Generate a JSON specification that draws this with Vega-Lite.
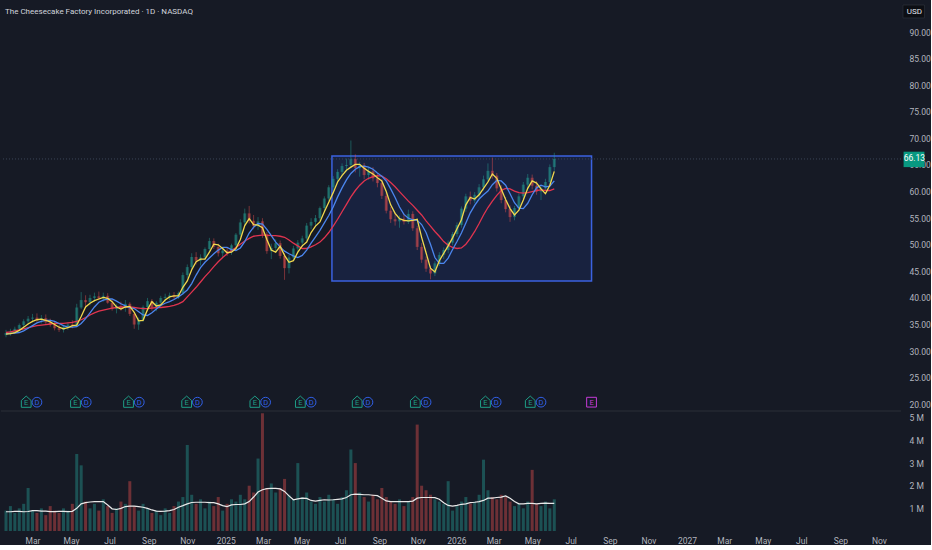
{
  "$schema": "https://vega.github.io/schema/vega-lite/v6.json",
  "background": "#161a25",
  "padding": {"left": 0, "top": 0, "right": 0, "bottom": 0},
  "title": {
    "text": "The Cheesecake Factory Incorporated · 1D · NASDAQ",
    "anchor": "start",
    "frame": "group",
    "dx": 4,
    "offset": -16,
    "font": "Roboto, sans-serif",
    "fontSize": 8,
    "fontWeight": "normal",
    "color": "#d1d4dc"
  },
  "datasets": {
    "px": [
      {"d": "2024-01-19", "o": 33.0, "h": 34.0, "l": 32.6, "c": 33.4, "v": 0.9, "m1": 33.2, "m2": 33.3, "m3": 33.5, "vm": 0.85},
      {"d": "2024-01-26", "o": 33.4, "h": 34.2, "l": 32.9, "c": 33.7, "v": 1.1, "m1": 33.3, "m2": 33.3, "m3": 33.6, "vm": 0.85},
      {"d": "2024-02-02", "o": 33.7, "h": 34.6, "l": 33.2, "c": 34.2, "v": 0.8, "m1": 33.5, "m2": 33.4, "m3": 33.8, "vm": 0.87},
      {"d": "2024-02-09", "o": 34.2, "h": 35.2, "l": 33.8, "c": 34.9, "v": 1.0, "m1": 33.9, "m2": 33.5, "m3": 34.0, "vm": 0.87},
      {"d": "2024-02-16", "o": 34.9, "h": 36.0, "l": 34.4, "c": 35.6, "v": 1.2, "m1": 34.5, "m2": 33.8, "m3": 34.2, "vm": 0.85},
      {"d": "2024-02-23", "o": 35.6, "h": 36.6, "l": 35.0, "c": 36.1, "v": 1.9, "m1": 35.1, "m2": 34.3, "m3": 34.4, "vm": 0.86},
      {"d": "2024-03-01", "o": 36.1, "h": 37.0, "l": 35.4, "c": 36.3, "v": 0.9, "m1": 35.6, "m2": 34.8, "m3": 34.6, "vm": 0.9},
      {"d": "2024-03-08", "o": 36.3, "h": 37.1, "l": 35.5, "c": 35.9, "v": 0.8, "m1": 35.9, "m2": 35.3, "m3": 34.8, "vm": 0.9},
      {"d": "2024-03-15", "o": 35.9, "h": 36.8, "l": 35.2, "c": 36.2, "v": 1.0, "m1": 36.0, "m2": 35.6, "m3": 34.9, "vm": 0.88},
      {"d": "2024-03-22", "o": 36.2, "h": 36.9, "l": 35.0, "c": 35.4, "v": 0.7, "m1": 35.8, "m2": 35.8, "m3": 35.0, "vm": 0.88},
      {"d": "2024-03-29", "o": 35.4, "h": 36.1, "l": 34.6, "c": 35.0, "v": 1.1, "m1": 35.5, "m2": 35.8, "m3": 35.1, "vm": 0.86},
      {"d": "2024-04-05", "o": 35.0, "h": 35.6, "l": 33.9, "c": 34.3, "v": 0.9, "m1": 35.0, "m2": 35.6, "m3": 35.2, "vm": 0.86},
      {"d": "2024-04-12", "o": 34.3, "h": 35.0, "l": 33.6, "c": 34.0, "v": 0.8, "m1": 34.5, "m2": 35.2, "m3": 35.2, "vm": 0.87},
      {"d": "2024-04-19", "o": 34.0, "h": 34.9, "l": 33.5, "c": 34.6, "v": 1.0, "m1": 34.2, "m2": 34.8, "m3": 35.2, "vm": 0.87},
      {"d": "2024-04-26", "o": 34.6, "h": 35.4, "l": 34.0, "c": 35.0, "v": 0.9, "m1": 34.4, "m2": 34.5, "m3": 35.3, "vm": 0.86},
      {"d": "2024-05-03", "o": 35.0, "h": 35.8, "l": 34.3, "c": 34.8, "v": 1.2, "m1": 34.8, "m2": 34.5, "m3": 35.4, "vm": 0.87},
      {"d": "2024-05-10", "o": 34.8, "h": 38.9, "l": 34.6, "c": 38.2, "v": 3.4, "m1": 34.9, "m2": 34.6, "m3": 35.6, "vm": 1.0},
      {"d": "2024-05-17", "o": 38.2, "h": 41.1, "l": 37.9, "c": 39.6, "v": 2.9, "m1": 36.5, "m2": 35.2, "m3": 35.9, "vm": 1.2},
      {"d": "2024-05-24", "o": 39.6, "h": 40.5, "l": 38.4, "c": 39.2, "v": 1.3, "m1": 38.3, "m2": 36.1, "m3": 36.3, "vm": 1.25},
      {"d": "2024-05-31", "o": 39.2, "h": 40.6, "l": 38.6, "c": 40.0, "v": 1.0, "m1": 39.0, "m2": 37.2, "m3": 36.8, "vm": 1.28},
      {"d": "2024-06-07", "o": 40.0, "h": 41.0, "l": 39.3, "c": 40.3, "v": 1.2, "m1": 39.5, "m2": 38.3, "m3": 37.2, "vm": 1.3},
      {"d": "2024-06-14", "o": 40.3, "h": 41.2, "l": 39.6, "c": 39.9, "v": 0.9, "m1": 39.8, "m2": 39.2, "m3": 37.5, "vm": 1.3},
      {"d": "2024-06-21", "o": 39.9, "h": 41.0, "l": 39.3, "c": 40.4, "v": 1.4, "m1": 40.1, "m2": 39.6, "m3": 37.7, "vm": 1.3},
      {"d": "2024-06-28", "o": 40.4, "h": 40.9, "l": 38.9, "c": 39.1, "v": 1.1, "m1": 39.9, "m2": 39.8, "m3": 37.9, "vm": 1.15},
      {"d": "2024-07-05", "o": 39.1, "h": 39.6, "l": 37.6, "c": 37.9, "v": 0.8, "m1": 39.3, "m2": 39.8, "m3": 38.1, "vm": 0.98},
      {"d": "2024-07-12", "o": 37.9, "h": 38.8, "l": 37.1, "c": 38.5, "v": 1.0, "m1": 38.3, "m2": 39.4, "m3": 38.2, "vm": 0.95},
      {"d": "2024-07-19", "o": 38.5, "h": 39.3, "l": 37.6, "c": 38.1, "v": 1.3, "m1": 37.9, "m2": 38.9, "m3": 38.3, "vm": 1.0},
      {"d": "2024-07-26", "o": 38.1, "h": 39.6, "l": 37.4, "c": 38.9, "v": 1.2, "m1": 38.3, "m2": 38.5, "m3": 38.3, "vm": 1.08},
      {"d": "2024-08-02", "o": 38.9, "h": 39.2, "l": 36.6, "c": 37.0, "v": 2.2, "m1": 38.4, "m2": 38.2, "m3": 38.3, "vm": 1.1},
      {"d": "2024-08-09", "o": 37.0, "h": 37.3, "l": 34.2, "c": 35.0, "v": 1.1, "m1": 37.3, "m2": 38.0, "m3": 38.2, "vm": 1.1},
      {"d": "2024-08-16", "o": 35.0, "h": 36.3, "l": 34.0, "c": 35.9, "v": 0.9, "m1": 35.7, "m2": 37.4, "m3": 38.1, "vm": 1.08},
      {"d": "2024-08-23", "o": 35.9, "h": 38.6, "l": 35.5, "c": 38.3, "v": 1.2, "m1": 35.8, "m2": 36.8, "m3": 38.0, "vm": 1.05},
      {"d": "2024-08-30", "o": 38.3, "h": 40.0, "l": 37.8, "c": 39.4, "v": 1.0, "m1": 37.8, "m2": 36.7, "m3": 38.0, "vm": 1.0},
      {"d": "2024-09-06", "o": 39.4, "h": 39.8, "l": 37.6, "c": 38.0, "v": 0.8, "m1": 39.3, "m2": 37.2, "m3": 38.1, "vm": 0.93},
      {"d": "2024-09-13", "o": 38.0, "h": 39.4, "l": 37.5, "c": 39.1, "v": 0.9, "m1": 38.5, "m2": 37.9, "m3": 38.2, "vm": 0.88},
      {"d": "2024-09-20", "o": 39.1, "h": 40.4, "l": 38.6, "c": 40.0, "v": 0.7, "m1": 38.7, "m2": 38.6, "m3": 38.2, "vm": 0.87},
      {"d": "2024-09-27", "o": 40.0, "h": 40.8, "l": 39.3, "c": 40.2, "v": 1.0, "m1": 39.6, "m2": 39.0, "m3": 38.3, "vm": 0.88},
      {"d": "2024-10-04", "o": 40.2, "h": 41.0, "l": 39.6, "c": 40.5, "v": 0.8, "m1": 40.2, "m2": 39.3, "m3": 38.4, "vm": 0.9},
      {"d": "2024-10-11", "o": 40.5, "h": 41.1, "l": 39.6, "c": 40.1, "v": 1.1, "m1": 40.4, "m2": 39.7, "m3": 38.6, "vm": 0.95},
      {"d": "2024-10-18", "o": 40.1, "h": 41.2, "l": 39.8, "c": 40.9, "v": 1.3, "m1": 40.4, "m2": 40.2, "m3": 38.9, "vm": 1.05},
      {"d": "2024-10-25", "o": 40.9, "h": 44.8, "l": 40.6, "c": 44.3, "v": 1.5, "m1": 42.0, "m2": 40.8, "m3": 39.3, "vm": 1.12},
      {"d": "2024-11-01", "o": 44.3, "h": 46.3, "l": 43.7, "c": 45.8, "v": 3.8, "m1": 43.2, "m2": 41.5, "m3": 40.2, "vm": 1.2},
      {"d": "2024-11-08", "o": 45.8, "h": 48.4, "l": 45.4, "c": 47.7, "v": 1.6, "m1": 45.3, "m2": 42.7, "m3": 41.1, "vm": 1.26},
      {"d": "2024-11-15", "o": 47.7, "h": 48.6, "l": 46.3, "c": 47.0, "v": 1.2, "m1": 46.8, "m2": 44.3, "m3": 42.0, "vm": 1.27},
      {"d": "2024-11-22", "o": 47.0, "h": 48.2, "l": 46.1, "c": 47.6, "v": 1.4, "m1": 47.3, "m2": 45.7, "m3": 43.0, "vm": 1.27},
      {"d": "2024-11-29", "o": 47.6, "h": 49.5, "l": 47.1, "c": 49.2, "v": 1.0, "m1": 47.3, "m2": 46.7, "m3": 44.0, "vm": 1.27},
      {"d": "2024-12-06", "o": 49.2, "h": 51.3, "l": 48.6, "c": 50.7, "v": 1.3, "m1": 48.6, "m2": 47.5, "m3": 44.9, "vm": 1.25},
      {"d": "2024-12-13", "o": 50.7, "h": 51.2, "l": 49.2, "c": 49.6, "v": 1.1, "m1": 50.1, "m2": 48.3, "m3": 45.9, "vm": 1.25},
      {"d": "2024-12-20", "o": 49.6, "h": 50.2, "l": 47.8, "c": 48.4, "v": 1.5, "m1": 50.0, "m2": 49.0, "m3": 46.8, "vm": 1.2},
      {"d": "2024-12-27", "o": 48.4, "h": 49.4, "l": 47.7, "c": 48.9, "v": 0.9, "m1": 49.3, "m2": 49.5, "m3": 47.6, "vm": 1.12},
      {"d": "2025-01-03", "o": 48.9, "h": 49.5, "l": 47.9, "c": 48.6, "v": 1.2, "m1": 48.5, "m2": 49.5, "m3": 48.3, "vm": 1.08},
      {"d": "2025-01-10", "o": 48.6, "h": 50.2, "l": 48.1, "c": 49.9, "v": 1.4, "m1": 48.6, "m2": 49.1, "m3": 48.9, "vm": 1.15},
      {"d": "2025-01-17", "o": 49.9, "h": 52.2, "l": 49.5, "c": 51.9, "v": 1.3, "m1": 49.3, "m2": 48.9, "m3": 49.5, "vm": 1.17},
      {"d": "2025-01-24", "o": 51.9, "h": 54.8, "l": 51.5, "c": 54.2, "v": 1.6, "m1": 51.0, "m2": 49.4, "m3": 50.1, "vm": 1.17},
      {"d": "2025-01-31", "o": 54.2, "h": 56.8, "l": 53.6, "c": 55.9, "v": 1.4, "m1": 53.6, "m2": 50.6, "m3": 50.7, "vm": 1.2},
      {"d": "2025-02-07", "o": 55.9, "h": 57.3, "l": 54.0, "c": 54.5, "v": 2.0, "m1": 54.9, "m2": 52.2, "m3": 51.2, "vm": 1.3},
      {"d": "2025-02-14", "o": 54.5, "h": 55.6, "l": 52.9, "c": 53.5, "v": 1.7, "m1": 53.8, "m2": 53.3, "m3": 51.6, "vm": 1.5},
      {"d": "2025-02-21", "o": 53.5, "h": 55.2, "l": 52.8, "c": 54.4, "v": 3.2, "m1": 53.7, "m2": 54.0, "m3": 51.7, "vm": 1.72},
      {"d": "2025-02-28", "o": 54.4, "h": 55.0, "l": 51.3, "c": 51.9, "v": 5.2, "m1": 53.2, "m2": 53.9, "m3": 51.8, "vm": 1.82},
      {"d": "2025-03-07", "o": 51.9, "h": 52.4, "l": 48.3, "c": 48.8, "v": 1.9, "m1": 51.0, "m2": 52.9, "m3": 51.8, "vm": 1.87},
      {"d": "2025-03-14", "o": 48.8, "h": 50.2, "l": 47.3, "c": 49.4, "v": 2.1, "m1": 49.0, "m2": 51.7, "m3": 51.7, "vm": 1.88},
      {"d": "2025-03-21", "o": 49.4, "h": 51.0, "l": 48.7, "c": 50.3, "v": 1.7, "m1": 48.6, "m2": 50.5, "m3": 51.7, "vm": 1.88},
      {"d": "2025-03-28", "o": 50.3, "h": 50.8, "l": 47.4, "c": 47.9, "v": 1.9, "m1": 49.7, "m2": 49.6, "m3": 51.6, "vm": 1.86},
      {"d": "2025-04-04", "o": 47.9, "h": 48.4, "l": 43.4, "c": 45.6, "v": 2.3, "m1": 48.0, "m2": 48.8, "m3": 51.4, "vm": 1.75},
      {"d": "2025-04-11", "o": 45.6, "h": 48.1, "l": 44.6, "c": 47.6, "v": 1.6, "m1": 46.7, "m2": 48.3, "m3": 50.9, "vm": 1.55},
      {"d": "2025-04-18", "o": 47.6, "h": 49.8, "l": 47.1, "c": 49.3, "v": 1.4, "m1": 47.0, "m2": 47.9, "m3": 50.3, "vm": 1.38},
      {"d": "2025-04-25", "o": 49.3, "h": 50.9, "l": 48.7, "c": 50.4, "v": 3.0, "m1": 48.6, "m2": 47.6, "m3": 49.8, "vm": 1.42},
      {"d": "2025-05-02", "o": 50.4, "h": 51.7, "l": 49.6, "c": 51.2, "v": 1.5, "m1": 49.8, "m2": 48.0, "m3": 49.3, "vm": 1.45},
      {"d": "2025-05-09", "o": 51.2, "h": 54.1, "l": 50.8, "c": 53.6, "v": 1.7, "m1": 50.5, "m2": 49.0, "m3": 49.3, "vm": 1.44},
      {"d": "2025-05-16", "o": 53.6, "h": 55.0, "l": 52.9, "c": 54.3, "v": 1.3, "m1": 52.3, "m2": 50.3, "m3": 49.6, "vm": 1.35},
      {"d": "2025-05-23", "o": 54.3, "h": 55.6, "l": 53.4, "c": 55.0, "v": 1.2, "m1": 53.5, "m2": 51.5, "m3": 50.0, "vm": 1.32},
      {"d": "2025-05-30", "o": 55.0, "h": 57.2, "l": 54.5, "c": 56.9, "v": 1.5, "m1": 54.3, "m2": 52.7, "m3": 50.5, "vm": 1.35},
      {"d": "2025-06-06", "o": 56.9, "h": 59.1, "l": 56.3, "c": 58.7, "v": 1.3, "m1": 56.2, "m2": 54.1, "m3": 51.3, "vm": 1.38},
      {"d": "2025-06-13", "o": 58.7, "h": 61.2, "l": 58.2, "c": 60.8, "v": 1.6, "m1": 58.0, "m2": 55.5, "m3": 52.3, "vm": 1.37},
      {"d": "2025-06-20", "o": 60.8, "h": 62.9, "l": 60.1, "c": 62.4, "v": 1.4, "m1": 59.8, "m2": 57.1, "m3": 53.5, "vm": 1.38},
      {"d": "2025-06-27", "o": 62.4, "h": 64.2, "l": 61.7, "c": 63.7, "v": 1.2, "m1": 61.8, "m2": 59.0, "m3": 54.8, "vm": 1.4},
      {"d": "2025-07-04", "o": 63.7, "h": 65.3, "l": 62.9, "c": 64.8, "v": 1.5, "m1": 63.0, "m2": 60.7, "m3": 56.2, "vm": 1.42},
      {"d": "2025-07-11", "o": 64.8, "h": 66.2, "l": 63.8, "c": 65.0, "v": 1.8, "m1": 64.0, "m2": 62.2, "m3": 57.6, "vm": 1.48},
      {"d": "2025-07-18", "o": 65.0, "h": 69.6, "l": 64.5, "c": 66.1, "v": 3.6, "m1": 64.6, "m2": 63.4, "m3": 59.0, "vm": 1.6},
      {"d": "2025-07-25", "o": 66.1, "h": 67.0, "l": 63.6, "c": 64.4, "v": 3.0, "m1": 65.1, "m2": 64.2, "m3": 60.2, "vm": 1.63},
      {"d": "2025-08-01", "o": 64.4, "h": 65.6, "l": 62.8, "c": 64.9, "v": 1.7, "m1": 65.1, "m2": 64.7, "m3": 61.2, "vm": 1.62},
      {"d": "2025-08-08", "o": 64.9, "h": 65.4, "l": 62.3, "c": 63.1, "v": 1.5, "m1": 64.4, "m2": 64.8, "m3": 62.0, "vm": 1.6},
      {"d": "2025-08-15", "o": 63.1, "h": 64.5, "l": 62.2, "c": 63.8, "v": 1.3, "m1": 63.8, "m2": 64.6, "m3": 62.5, "vm": 1.6},
      {"d": "2025-08-22", "o": 63.8, "h": 64.6, "l": 61.9, "c": 62.5, "v": 1.6, "m1": 63.3, "m2": 64.2, "m3": 62.8, "vm": 1.58},
      {"d": "2025-08-29", "o": 62.5, "h": 63.4, "l": 60.8, "c": 61.6, "v": 1.4, "m1": 62.6, "m2": 63.5, "m3": 63.0, "vm": 1.56},
      {"d": "2025-09-05", "o": 61.6, "h": 62.3, "l": 58.6, "c": 59.2, "v": 1.9, "m1": 62.0, "m2": 62.9, "m3": 62.9, "vm": 1.45},
      {"d": "2025-09-12", "o": 59.2, "h": 59.8, "l": 55.9, "c": 56.4, "v": 1.5, "m1": 60.0, "m2": 62.0, "m3": 62.4, "vm": 1.33},
      {"d": "2025-09-19", "o": 56.4, "h": 57.1, "l": 54.1, "c": 54.8, "v": 1.3, "m1": 57.5, "m2": 60.5, "m3": 61.7, "vm": 1.3},
      {"d": "2025-09-26", "o": 54.8, "h": 56.0, "l": 53.6, "c": 54.4, "v": 1.2, "m1": 55.9, "m2": 58.9, "m3": 60.9, "vm": 1.3},
      {"d": "2025-10-03", "o": 54.4, "h": 55.5, "l": 53.2, "c": 54.9, "v": 1.4, "m1": 54.9, "m2": 57.1, "m3": 60.0, "vm": 1.3},
      {"d": "2025-10-10", "o": 54.9, "h": 55.8, "l": 53.8, "c": 54.3, "v": 1.1, "m1": 54.6, "m2": 55.7, "m3": 59.1, "vm": 1.3},
      {"d": "2025-10-17", "o": 54.3, "h": 56.6, "l": 53.9, "c": 55.8, "v": 1.3, "m1": 54.5, "m2": 55.0, "m3": 58.2, "vm": 1.3},
      {"d": "2025-10-24", "o": 55.8, "h": 56.3, "l": 52.6, "c": 53.1, "v": 1.5, "m1": 54.6, "m2": 54.7, "m3": 57.4, "vm": 1.32},
      {"d": "2025-10-31", "o": 53.1, "h": 53.6, "l": 49.0, "c": 49.6, "v": 4.7, "m1": 54.8, "m2": 54.6, "m3": 56.5, "vm": 1.45},
      {"d": "2025-11-07", "o": 49.6, "h": 50.3, "l": 46.6, "c": 47.2, "v": 2.0, "m1": 51.4, "m2": 53.8, "m3": 55.6, "vm": 1.48},
      {"d": "2025-11-14", "o": 47.2, "h": 47.8, "l": 44.9, "c": 45.5, "v": 1.8, "m1": 48.5, "m2": 52.3, "m3": 54.5, "vm": 1.48},
      {"d": "2025-11-21", "o": 45.5, "h": 46.0, "l": 43.5, "c": 44.6, "v": 1.6, "m1": 45.6, "m2": 50.1, "m3": 53.5, "vm": 1.48},
      {"d": "2025-11-28", "o": 44.6, "h": 46.9, "l": 44.1, "c": 46.5, "v": 1.4, "m1": 44.9, "m2": 47.6, "m3": 52.5, "vm": 1.47},
      {"d": "2025-12-05", "o": 46.5, "h": 48.6, "l": 46.0, "c": 48.1, "v": 1.3, "m1": 47.0, "m2": 46.5, "m3": 51.6, "vm": 1.4},
      {"d": "2025-12-12", "o": 48.1, "h": 49.5, "l": 47.3, "c": 49.0, "v": 1.2, "m1": 48.4, "m2": 46.5, "m3": 50.6, "vm": 1.25},
      {"d": "2025-12-19", "o": 49.0, "h": 50.8, "l": 48.4, "c": 50.4, "v": 2.2, "m1": 49.8, "m2": 47.5, "m3": 49.9, "vm": 1.13},
      {"d": "2025-12-26", "o": 50.4, "h": 52.4, "l": 49.9, "c": 52.0, "v": 0.9, "m1": 51.3, "m2": 49.1, "m3": 49.5, "vm": 1.1},
      {"d": "2026-01-02", "o": 52.0, "h": 54.2, "l": 51.5, "c": 53.7, "v": 1.1, "m1": 53.0, "m2": 50.6, "m3": 49.3, "vm": 1.13},
      {"d": "2026-01-09", "o": 53.7, "h": 57.2, "l": 53.2, "c": 56.8, "v": 1.3, "m1": 54.7, "m2": 52.2, "m3": 49.4, "vm": 1.18},
      {"d": "2026-01-16", "o": 56.8, "h": 59.6, "l": 56.2, "c": 59.1, "v": 1.5, "m1": 57.5, "m2": 54.1, "m3": 50.1, "vm": 1.2},
      {"d": "2026-01-23", "o": 59.1, "h": 60.0, "l": 57.6, "c": 58.3, "v": 1.2, "m1": 58.9, "m2": 56.0, "m3": 51.2, "vm": 1.25},
      {"d": "2026-01-30", "o": 58.3, "h": 59.9, "l": 57.8, "c": 59.4, "v": 1.3, "m1": 58.6, "m2": 57.4, "m3": 52.5, "vm": 1.27},
      {"d": "2026-02-06", "o": 59.4, "h": 61.4, "l": 58.9, "c": 60.8, "v": 1.6, "m1": 59.4, "m2": 58.6, "m3": 54.0, "vm": 1.3},
      {"d": "2026-02-13", "o": 60.8, "h": 63.0, "l": 60.2, "c": 62.3, "v": 3.15, "m1": 60.6, "m2": 59.4, "m3": 55.6, "vm": 1.35},
      {"d": "2026-02-20", "o": 62.3, "h": 65.3, "l": 61.8, "c": 63.9, "v": 1.8, "m1": 61.8, "m2": 60.1, "m3": 57.0, "vm": 1.45},
      {"d": "2026-02-27", "o": 63.9, "h": 66.4, "l": 62.4, "c": 63.0, "v": 1.5, "m1": 63.3, "m2": 61.3, "m3": 58.2, "vm": 1.45},
      {"d": "2026-03-06", "o": 63.0, "h": 63.5, "l": 60.0, "c": 60.6, "v": 1.4, "m1": 62.5, "m2": 62.1, "m3": 59.3, "vm": 1.48},
      {"d": "2026-03-13", "o": 60.6, "h": 61.2, "l": 57.8, "c": 58.4, "v": 1.6, "m1": 60.5, "m2": 62.0, "m3": 60.2, "vm": 1.5},
      {"d": "2026-03-20", "o": 58.4, "h": 59.0, "l": 56.1, "c": 56.7, "v": 1.5, "m1": 58.5, "m2": 61.2, "m3": 60.6, "vm": 1.55},
      {"d": "2026-03-27", "o": 56.7, "h": 57.4, "l": 54.3, "c": 55.2, "v": 1.3, "m1": 56.8, "m2": 59.6, "m3": 60.5, "vm": 1.45},
      {"d": "2026-04-03", "o": 55.2, "h": 57.3, "l": 54.6, "c": 56.9, "v": 1.1, "m1": 55.6, "m2": 57.9, "m3": 60.1, "vm": 1.3},
      {"d": "2026-04-10", "o": 56.9, "h": 59.6, "l": 56.4, "c": 59.1, "v": 1.2, "m1": 56.5, "m2": 56.9, "m3": 59.8, "vm": 1.2},
      {"d": "2026-04-17", "o": 59.1, "h": 61.8, "l": 58.6, "c": 61.3, "v": 1.0, "m1": 58.4, "m2": 56.8, "m3": 59.7, "vm": 1.2},
      {"d": "2026-04-24", "o": 61.3, "h": 63.3, "l": 60.5, "c": 62.6, "v": 1.3, "m1": 60.6, "m2": 57.8, "m3": 59.8, "vm": 1.22},
      {"d": "2026-05-01", "o": 62.6, "h": 63.2, "l": 60.4, "c": 61.1, "v": 2.7, "m1": 62.0, "m2": 59.4, "m3": 60.0, "vm": 1.22},
      {"d": "2026-05-08", "o": 61.1, "h": 62.0, "l": 59.4, "c": 60.0, "v": 1.2, "m1": 61.6, "m2": 60.7, "m3": 60.2, "vm": 1.2},
      {"d": "2026-05-15", "o": 60.0, "h": 61.2, "l": 58.4, "c": 60.6, "v": 1.1, "m1": 60.5, "m2": 61.2, "m3": 60.3, "vm": 1.22},
      {"d": "2026-05-22", "o": 60.6, "h": 62.4, "l": 60.1, "c": 61.8, "v": 1.3, "m1": 59.6, "m2": 60.9, "m3": 60.2, "vm": 1.23},
      {"d": "2026-05-29", "o": 61.8, "h": 65.1, "l": 61.5, "c": 64.6, "v": 1.0, "m1": 61.2, "m2": 61.0, "m3": 60.2, "vm": 1.22},
      {"d": "2026-06-05", "o": 64.6, "h": 67.3, "l": 63.9, "c": 66.13, "v": 1.4, "m1": 63.8, "m2": 62.0, "m3": 60.5, "vm": 1.22}
    ],
    "ev": [
      {"d": "2024-02-20", "t": "E"}, {"d": "2024-03-08", "t": "D"},
      {"d": "2024-05-08", "t": "E"}, {"d": "2024-05-25", "t": "D"},
      {"d": "2024-07-31", "t": "E"}, {"d": "2024-08-17", "t": "D"},
      {"d": "2024-10-31", "t": "E"}, {"d": "2024-11-17", "t": "D"},
      {"d": "2025-02-16", "t": "E"}, {"d": "2025-03-05", "t": "D"},
      {"d": "2025-04-29", "t": "E"}, {"d": "2025-05-16", "t": "D"},
      {"d": "2025-07-28", "t": "E"}, {"d": "2025-08-14", "t": "D"},
      {"d": "2025-10-28", "t": "E"}, {"d": "2025-11-14", "t": "D"},
      {"d": "2026-02-16", "t": "E"}, {"d": "2026-03-05", "t": "D"},
      {"d": "2026-04-28", "t": "E"}, {"d": "2026-05-15", "t": "D"},
      {"d": "2026-08-03", "t": "F"}
    ],
    "box": [{"x1": "2025-06-18", "x2": "2026-08-03", "lo": 43.2, "hi": 66.7}],
    "tag": [{"a": "2027-12-10", "b": "2028-01-12", "m": "2027-12-27", "lo": 64.6, "hi": 67.5, "p": 66.13}],
    "cur": [{"a": "2027-12-09", "b": "2028-01-12", "m": "2027-12-27", "lo": 92.64, "hi": 95.08, "p": 93.85}]
  },
  "vconcat": [
    {
      "width": 900,
      "height": 410,
      "layer": [
        {
          "data": {"name": "box"},
          "mark": {"type": "rect", "fill": "#2962ff", "fillOpacity": 0.12, "stroke": "#3b62e0", "strokeWidth": 1.5},
          "encoding": {
            "x": {"field": "x1", "type": "temporal", "axis": null, "scale": {"type": "utc", "domain": [{"year": 2024, "month": 1, "date": 19, "utc": true}, {"year": 2027, "month": 11, "date": 28, "utc": true}]}},
            "x2": {"field": "x2"},
            "y": {"field": "lo", "type": "quantitative", "title": null, "scale": {"domain": [18.93, 96.02], "nice": false, "zero": false},
                  "axis": {"orient": "right", "values": [20, 25, 30, 35, 40, 45, 50, 55, 60, 65, 70, 75, 80, 85, 90], "tickCount": 30, "format": ".2f", "labelPadding": 8, "labelOverlap": false, "title": null}},
            "y2": {"field": "hi"}
          }
        },
        {
          "data": {"values": [{}]},
          "mark": {"type": "rule", "color": "#3a4556", "strokeDash": [1, 2], "strokeWidth": 1},
          "encoding": {"y": {"datum": 66.13, "type": "quantitative", "title": null}}
        },
        {
          "data": {"name": "px"},
          "mark": {"type": "rule", "strokeWidth": 1, "opacity": 0.45},
          "encoding": {
            "x": {"field": "d", "type": "temporal", "axis": null},
            "y": {"field": "l", "type": "quantitative", "title": null},
            "y2": {"field": "h"},
            "color": {"condition": {"test": "datum.c >= datum.o", "value": "#26a69a"}, "value": "#ef5350"}
          }
        },
        {
          "data": {"name": "px"},
          "mark": {"type": "bar", "size": 3, "opacity": 0.45},
          "encoding": {
            "x": {"field": "d", "type": "temporal", "axis": null},
            "y": {"field": "o", "type": "quantitative", "title": null},
            "y2": {"field": "c"},
            "color": {"condition": {"test": "datum.c >= datum.o", "value": "#26a69a"}, "value": "#ef5350"}
          }
        },
        {
          "data": {"name": "px"},
          "mark": {"type": "line", "color": "#e0344f", "strokeWidth": 1.3},
          "encoding": {"x": {"field": "d", "type": "temporal", "axis": null}, "y": {"field": "m3", "type": "quantitative", "title": null}}
        },
        {
          "data": {"name": "px"},
          "mark": {"type": "line", "color": "#4b86ee", "strokeWidth": 1.3},
          "encoding": {"x": {"field": "d", "type": "temporal", "axis": null}, "y": {"field": "m2", "type": "quantitative", "title": null}}
        },
        {
          "data": {"name": "px"},
          "mark": {"type": "line", "color": "#f2d94e", "strokeWidth": 1.3},
          "encoding": {"x": {"field": "d", "type": "temporal", "axis": null}, "y": {"field": "m1", "type": "quantitative", "title": null}}
        },
        {
          "data": {"name": "ev"},
          "mark": {"type": "point", "filled": false, "fill": "#161a25", "fillOpacity": 1, "strokeWidth": 1, "size": 95, "opacity": 1},
          "encoding": {
            "x": {"field": "d", "type": "temporal", "axis": null},
            "y": {"datum": 20.4, "type": "quantitative", "title": null},
            "shape": {"field": "t", "type": "nominal", "legend": null, "scale": {"domain": ["E", "D", "F"], "range": ["M-1,-0.35L0,-1.25L1,-0.35L1,1.05L-1,1.05Z", "circle", "square"]}},
            "stroke": {"field": "t", "type": "nominal", "legend": null, "scale": {"domain": ["E", "D", "F"], "range": ["#1f9e87", "#3160e8", "#c43bd8"]}}
          }
        },
        {
          "data": {"name": "ev"},
          "transform": [{"calculate": "datum.t == 'F' ? 'E' : datum.t", "as": "s"}],
          "mark": {"type": "text", "fontSize": 7.5, "font": "Roboto, sans-serif", "baseline": "middle", "dy": 1},
          "encoding": {
            "x": {"field": "d", "type": "temporal", "axis": null},
            "y": {"datum": 20.4, "type": "quantitative", "title": null},
            "text": {"field": "s"},
            "color": {"field": "t", "type": "nominal", "legend": null, "scale": {"domain": ["E", "D", "F"], "range": ["#1f9e87", "#3160e8", "#c43bd8"]}}
          }
        },
        {
          "data": {"name": "tag"},
          "mark": {"type": "rect", "fill": "#089981", "clip": false},
          "encoding": {
            "x": {"field": "a", "type": "temporal", "axis": null},
            "x2": {"field": "b"},
            "y": {"field": "lo", "type": "quantitative", "title": null},
            "y2": {"field": "hi"}
          }
        },
        {
          "data": {"name": "tag"},
          "mark": {"type": "text", "color": "#ffffff", "fontSize": 8.5, "font": "Roboto, sans-serif", "baseline": "middle", "dy": -1, "clip": false},
          "encoding": {
            "x": {"field": "m", "type": "temporal", "axis": null},
            "y": {"field": "p", "type": "quantitative", "title": null},
            "text": {"field": "p", "format": ".2f"}
          }
        },
        {
          "data": {"name": "cur"},
          "mark": {"type": "rect", "fill": "#0c0e14", "stroke": "#2a2e39", "strokeWidth": 0.8, "clip": false},
          "encoding": {
            "x": {"field": "a", "type": "temporal", "axis": null},
            "x2": {"field": "b"},
            "y": {"field": "lo", "type": "quantitative", "title": null},
            "y2": {"field": "hi"}
          }
        },
        {
          "data": {"name": "cur"},
          "mark": {"type": "text", "color": "#e6e8ee", "fontSize": 8, "font": "Roboto, sans-serif", "baseline": "middle", "clip": false},
          "encoding": {
            "x": {"field": "m", "type": "temporal", "axis": null},
            "y": {"field": "p", "type": "quantitative", "title": null},
            "text": {"value": "USD"}
          }
        }
      ]
    },
    {
      "width": 900,
      "height": 120,
      "layer": [
        {
          "data": {"name": "px"},
          "mark": {"type": "bar", "size": 3, "opacity": 0.4},
          "encoding": {
            "x": {"field": "d", "type": "temporal", "title": null,
                  "scale": {"type": "utc", "domain": [{"year": 2024, "month": 1, "date": 19, "utc": true}, {"year": 2027, "month": 11, "date": 28, "utc": true}]},
                  "axis": {"orient": "bottom", "tickCount": {"interval": "month", "step": 2}, "labelExpr": "utcFormat(datum.value, '%m') == '01' ? utcFormat(datum.value, '%Y') : utcFormat(datum.value, '%b')", "labelPadding": 5, "labelOverlap": false, "labelFlush": false, "title": null}},
            "y": {"field": "v", "type": "quantitative", "title": null, "scale": {"domain": [0, 5.3], "nice": false},
                  "axis": {"orient": "right", "values": [1, 2, 3, 4, 5], "tickCount": 20, "labelExpr": "datum.value + ' M'", "labelPadding": 8, "labelOverlap": false, "title": null}},
            "color": {"condition": {"test": "datum.c >= datum.o", "value": "#26a69a"}, "value": "#ef5350"}
          }
        },
        {
          "data": {"name": "px"},
          "mark": {"type": "line", "color": "#e8e8e8", "strokeWidth": 1.2},
          "encoding": {
            "x": {"field": "d", "type": "temporal", "title": null},
            "y": {"field": "vm", "type": "quantitative", "title": null}
          }
        },
        {
          "data": {"values": [{}]},
          "mark": {"type": "rule", "color": "#2a2e39", "strokeWidth": 1},
          "encoding": {"y": {"datum": 5.3, "type": "quantitative", "title": null}}
        }
      ]
    }
  ],
  "spacing": 0,
  "resolve": {"scale": {"x": "independent", "y": "independent", "color": "independent"}},
  "config": {
    "view": {"stroke": null},
    "axis": {"grid": false, "ticks": false, "domain": false, "labelColor": "#b2b5be", "labelFont": "Roboto, sans-serif", "labelFontSize": 8.5}
  }
}
